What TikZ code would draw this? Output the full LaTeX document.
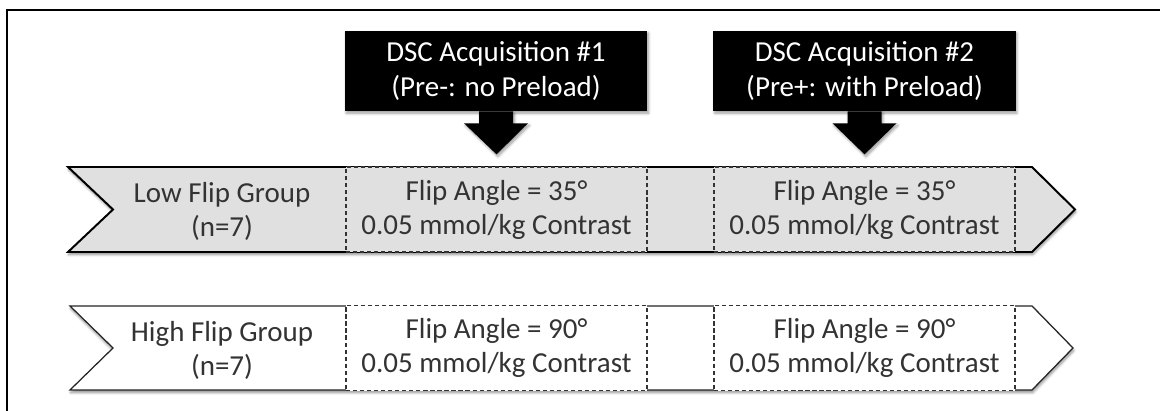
\documentclass[tikz,border=0pt]{standalone}
\usepackage{fontspec}
\setmainfont{Carlito}
\usetikzlibrary{positioning,calc,shadows.blur}

\tikzset{
    txt/.style={font=\fontsize{20.6pt}{24.2pt}\selectfont, align=center},
    acqbox/.style={txt, fill=black, text=white, minimum width=7.55cm, minimum height=2cm,
        blur shadow={shadow xshift=1pt, shadow yshift=-1.5pt, shadow blur steps=6, shadow opacity=40}},
    dosebox/.style={txt, draw=black!80, line width=0.9pt, dash pattern=on 3pt off 2pt,
        text=black!80, minimum width=7.525cm, minimum height=2.125cm},
    grouplabel/.style={txt, text=black!80},
    band/.style={blur shadow={shadow xshift=0.5pt, shadow yshift=-1.8pt, shadow blur steps=6, shadow opacity=45}},
    downarrow/.style={fill=black, blur shadow={shadow xshift=1pt, shadow yshift=-1.5pt, shadow blur steps=6, shadow opacity=40}}
}

\begin{document}
\begin{tikzpicture}[x=0.025cm, y=-0.025cm]
    \useasboundingbox (0,0) rectangle (1160,411);
    % frame
    \draw[line width=1.4pt] (7,411) -- (7,10) -- (1160,10);

    % acquisition boxes
    \node[acqbox] (acqA) at (496,71) {DSC Acquisition \#1\\(Pre-: no Preload)};
    \node[acqbox] (acqB) at (864.5,71) {DSC Acquisition \#2\\(Pre+: with Preload)};

    % low flip band
    \draw[band, fill=black!12, line width=1.4pt, line join=miter]
        (68,167) -- (1032,167) -- (1075,209.5) -- (1032,252) -- (68,252) -- (113,209.5) -- cycle;
    \node[grouplabel] (lowLabel) at (222,211) {Low Flip Group\\(n=7)};
    \node[dosebox, fill=black!12] (lowA) at (496.5,209.5) {Flip Angle = 35°\\0.05 mmol/kg Contrast};
    \node[dosebox, fill=black!12] (lowB) at (864.5,209.5) {Flip Angle = 35°\\0.05 mmol/kg Contrast};

    % high flip band
    \draw[band, fill=white, draw=black!85, line width=0.9pt, line join=miter]
        (70,306) -- (1032,306) -- (1073,348) -- (1032,390) -- (70,390) -- (113,348) -- cycle;
    \node[grouplabel] (highLabel) at (222,350) {High Flip Group\\(n=7)};
    \node[dosebox, fill=white] (highA) at (496.5,348) {Flip Angle = 90°\\0.05 mmol/kg Contrast};
    \node[dosebox, fill=white] (highB) at (864.5,348) {Flip Angle = 90°\\0.05 mmol/kg Contrast};

    % arrows into the low band
    \foreach \src/\dst in {acqA/lowA, acqB/lowB} {
        \coordinate (tip) at ($(\dst.north)+(0,-12)$);
        \path[downarrow] ($(\src.south)+(-17,0)$) -- ($(\src.south)+(17,0)$)
            -- ($(\src.south)+(17,12)$) -- ($(\src.south)+(32,12)$) -- (tip)
            -- ($(\src.south)+(-32,12)$) -- ($(\src.south)+(-17,12)$) -- cycle;
    }
\end{tikzpicture}
\end{document}
